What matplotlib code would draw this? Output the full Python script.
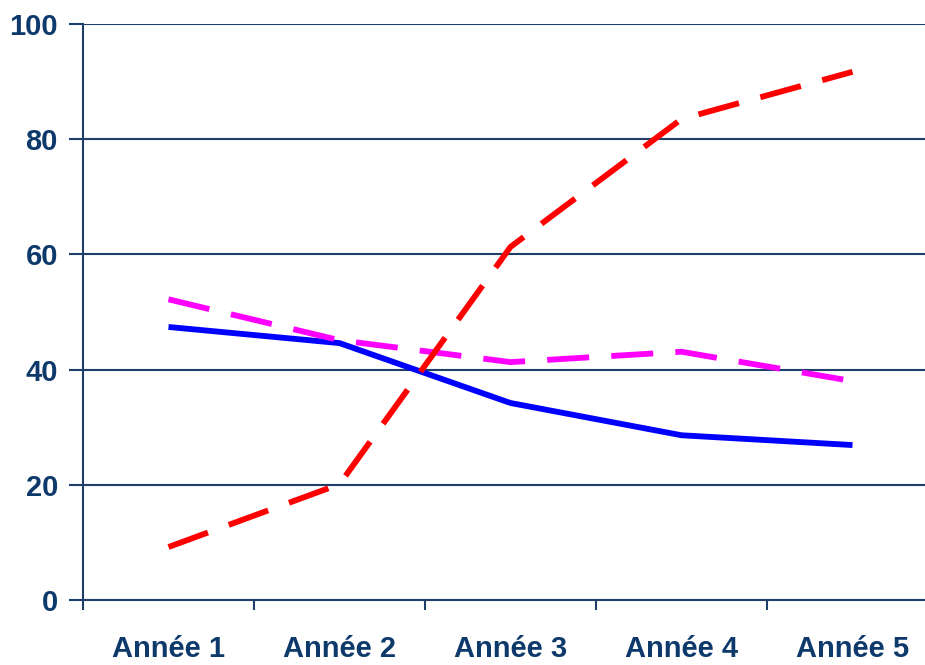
import matplotlib.pyplot as plt
import numpy as np

plt.rcParams["font.family"] = ["Liberation Sans", "DejaVu Sans"]

years = ["Année 1", "Année 2", "Année 3", "Année 4", "Année 5"]
blue_vals = [47.4, 44.6, 34.2, 28.6, 26.9]
magenta_vals = [52.2, 45.1, 41.3, 43.1, 38.0]
red_vals = [9.2, 20.1, 61.3, 83.5, 91.7]

navy = "#1f3f6b"
text_col = "#0d3a6b"

fig = plt.figure(figsize=(9.25, 6.65), dpi=100)
ax = fig.add_axes([83 / 925, 65 / 665, 855 / 925, 576 / 665])

x = np.arange(len(years))
lw = 4.2
ax.plot(x, blue_vals, color="#0000ff", lw=lw, solid_capstyle="butt",
        solid_joinstyle="miter", zorder=3)
ax.plot(x, magenta_vals, color="#ff00ff", lw=lw, dashes=(7.2, 3.8),
        dash_capstyle="butt", zorder=3)
ax.plot(x, red_vals, color="#ff0000", lw=lw, dashes=(7.2, 3.8),
        dash_capstyle="butt", zorder=3)

ax.set_xlim(-0.5, len(years) - 0.5)
ax.set_ylim(0, 100)
ax.set_yticks(np.arange(0, 101, 20))
ax.set_xticks(x)
ax.set_xticklabels(years)
ax.set_xticks(np.arange(-0.5, len(years), 1), minor=True)
ax.yaxis.grid(True, color=navy, lw=1.5)
ax.set_axisbelow(True)

for side in ["top", "right"]:
    ax.spines[side].set_visible(False)
for side in ["left", "bottom"]:
    ax.spines[side].set_color(navy)
    ax.spines[side].set_linewidth(1.5)

ax.tick_params(axis="y", length=10, width=1.5, color=navy, pad=8,
               labelsize=21, labelcolor=text_col)
ax.tick_params(axis="x", which="major", length=0, pad=25,
               labelsize=21, labelcolor=text_col)
ax.tick_params(axis="x", which="minor", length=7, width=1.5, color=navy)
for lbl in ax.get_xticklabels() + ax.get_yticklabels():
    lbl.set_fontweight("bold")

plt.savefig("out.png", dpi=100)
